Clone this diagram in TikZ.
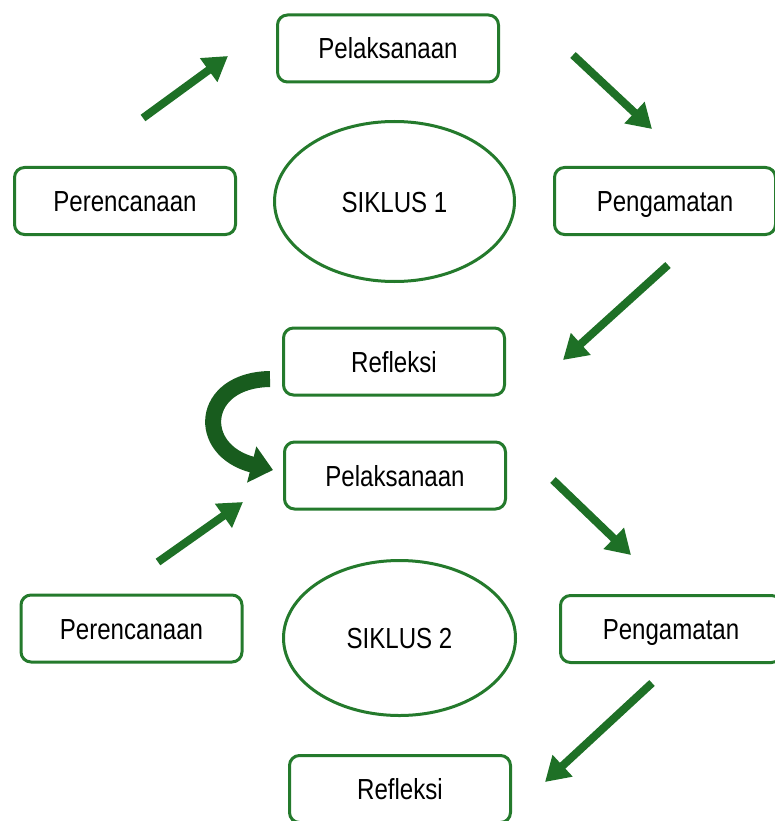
\documentclass[tikz,border=0pt]{standalone}
\usepackage{fontspec}
\setmainfont{Liberation Sans}[FakeStretch=0.83]
\usepackage{tikz}
\usetikzlibrary{arrows.meta,shapes.geometric}
\definecolor{boxgreen}{RGB}{36,122,44}
\definecolor{arrgreen}{RGB}{30,112,38}
\definecolor{bendgreen}{RGB}{24,92,30}
\tikzset{
  tahap/.style={draw=boxgreen, line width=3pt, rounded corners=10pt, fill=white,
                minimum width=221pt, minimum height=67pt, inner sep=0pt,
                text height=21pt, text depth=0pt,
                font=\fontsize{29}{34}\selectfont},
  siklus/.style={ellipse, draw=boxgreen, line width=3pt, fill=white,
                 inner sep=0pt, text height=21pt, text depth=0pt,
                 font=\fontsize{29}{34}\selectfont},
  panah/.style={draw=arrgreen, line width=8pt, -{Triangle[length=24pt,width=28pt]}},
  panahbelok/.style={draw=bendgreen, line width=16pt, -{Triangle[length=22pt,width=36pt]}}
}

\begin{document}
\begin{tikzpicture}[x=1pt, y=-1pt]
      \useasboundingbox (0, 0) rectangle (775, 821);

      \node[tahap](Plk1) at (388, 48.5) {Pelaksanaan};
      \node[tahap](Prc1) at (125, 201) {Perencanaan};
      \node[tahap](Pgm1) at (665, 201) {Pengamatan};
      \node[siklus, minimum width=240pt, minimum height=160pt](Sik1) at (394.5, 201.5) {SIKLUS 1};
      \node[tahap](Ref1) at (394, 361.5) {Refleksi};

      \node[tahap](Plk2) at (395, 475.5) {Pelaksanaan};
      \node[tahap](Prc2) at (131.5, 628.5) {Perencanaan};
      \node[tahap](Pgm2) at (671, 629) {Pengamatan};
      \node[siklus, minimum width=232pt, minimum height=155pt](Sik2) at (399.5, 638) {SIKLUS 2};
      \node[tahap](Ref2) at (400, 789) {Refleksi};

      \coordinate(A1a) at (143, 118);  \coordinate(A1b) at (228, 56);
      \coordinate(A2a) at (573, 55);   \coordinate(A2b) at (652, 129);
      \coordinate(A3a) at (668, 265);  \coordinate(A3b) at (563, 360);
      \coordinate(B1a) at (270, 379);  \coordinate(B1b) at (273, 470);
      \coordinate(A4a) at (158, 562);  \coordinate(A4b) at (243, 502);
      \coordinate(A5a) at (553, 480);  \coordinate(A5b) at (631, 555);
      \coordinate(A6a) at (652, 683);  \coordinate(A6b) at (545, 782);

      \draw[panah] (A1a) -- (A1b);
      \draw[panah] (A2a) -- (A2b);
      \draw[panah] (A3a) -- (A3b);
      \draw[panahbelok] (B1a) .. controls (200, 380) and (195, 450) .. (B1b);
      \draw[panah] (A4a) -- (A4b);
      \draw[panah] (A5a) -- (A5b);
      \draw[panah] (A6a) -- (A6b);
    \end{tikzpicture}
\end{document}
